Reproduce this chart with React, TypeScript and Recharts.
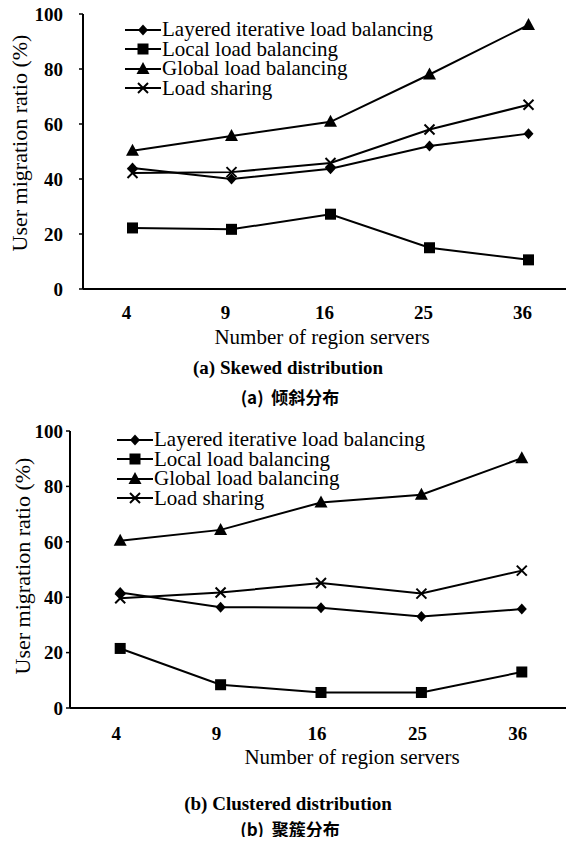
import { LineChart, Line, XAxis, YAxis } from "recharts";

const servers = ["4", "9", "16", "25", "36"];
const yTicks = [0, 20, 40, 60, 80, 100];
const seriesNames = [
  "Layered iterative load balancing",
  "Local load balancing",
  "Global load balancing",
  "Load sharing",
];
const markerShapes = ["diamond", "square", "triangle", "cross"];

// (a) skewed distribution
const skewedLayered = [44, 40, 43.7, 52, 56.5];
const skewedLocal = [22.2, 21.7, 27.2, 15, 10.6];
const skewedGlobal = [50.3, 55.6, 60.8, 78, 96];
const skewedSharing = [42.2, 42.5, 45.8, 58, 67];

// (b) clustered distribution
const clusteredLayered = [41.7, 36.4, 36.2, 33, 35.7];
const clusteredLocal = [21.5, 8.4, 5.6, 5.6, 13];
const clusteredGlobal = [60.4, 64.3, 74.2, 77, 90.2];
const clusteredSharing = [39.6, 41.7, 45.1, 41.3, 49.6];

const serif = '"Liberation Serif", "Times New Roman", Times, serif';
const keys = ["layered", "local", "global", "sharing"];

function Marker({ shape, cx, cy }: { shape: string; cx: number; cy: number }) {
  if (cx == null || cy == null) return null;
  if (shape === "diamond")
    return <polygon points={`${cx},${cy - 5.5} ${cx + 5},${cy} ${cx},${cy + 5.5} ${cx - 5},${cy}`} fill="#000" />;
  if (shape === "square") return <rect x={cx - 5.5} y={cy - 5.5} width={11} height={11} fill="#000" />;
  if (shape === "triangle")
    return <polygon points={`${cx},${cy - 7} ${cx + 6.5},${cy + 5} ${cx - 6.5},${cy + 5}`} fill="#000" />;
  return (
    <g stroke="#000" strokeWidth={2}>
      <line x1={cx - 5} y1={cy - 5} x2={cx + 5} y2={cy + 5} />
      <line x1={cx - 5} y1={cy + 5} x2={cx + 5} y2={cy - 5} />
    </g>
  );
}

const dotFor = (shape: string) => (props: any) =>
  <Marker key={`${shape}-${props.index}`} shape={shape} cx={props.cx} cy={props.cy} />;

function Legend({ left, top }: { left: number; top: number }) {
  return (
    <div style={{ position: "absolute", left, top }}>
      {seriesNames.map((name, i) => (
        <div key={name} style={{ display: "flex", alignItems: "center", height: 19.5 }}>
          <svg width={36} height={20}>
            <line x1={0} y1={10} x2={36} y2={10} stroke="#000" strokeWidth={2} />
            <Marker shape={markerShapes[i]} cx={18} cy={10} />
          </svg>
          <span style={{ fontFamily: serif, fontSize: 21, lineHeight: "19.5px", whiteSpace: "nowrap", marginLeft: 1 }}>
            {name}
          </span>
        </div>
      ))}
    </div>
  );
}

function Panel({ series, cfg }: any) {
  const data = servers.map((s, i) => ({
    n: s,
    layered: series[0][i],
    local: series[1][i],
    global: series[2][i],
    sharing: series[3][i],
  }));
  const plotW = 600 - cfg.yWidth - cfg.mRight;
  const pad = plotW / 10;
  const axisStyle = { stroke: "#000", strokeWidth: 2 };
  const tickFont = { fill: "#000", fontSize: 19, fontWeight: "bold", fontFamily: serif, style: { fontFamily: serif } };
  return (
    <div style={{ position: "absolute", left: 0, top: cfg.top }}>
      <LineChart width={600} height={cfg.height} data={data} style={{ fontFamily: serif }}
        margin={{ top: cfg.mTop, right: cfg.mRight, bottom: 0, left: 0 }}>
        <XAxis xAxisId="edge" type="number" domain={[0, 5]} ticks={[1, 2, 3, 4]} allowDataOverflow
          tick={false} axisLine={false} tickSize={4} mirror height={0} tickLine={{ stroke: "#000", strokeWidth: 1.5 }} />
        <XAxis dataKey="n" height={44} padding={{ left: pad, right: pad }} interval={0}
          tickSize={0} tickMargin={cfg.xTickMargin} axisLine={axisStyle} tickLine={false}
          tick={{ ...tickFont, dx: cfg.dx }} />
        <XAxis xAxisId="top" orientation="top" dataKey="n" height={0} tick={false} tickLine={false} axisLine={axisStyle} />
        <YAxis domain={[0, 100]} ticks={yTicks} width={cfg.yWidth} tickSize={4} tickMargin={cfg.yTickMargin}
          axisLine={axisStyle} tickLine={{ stroke: "#000", strokeWidth: 1.5 }} tick={tickFont} />
        <YAxis yAxisId="right" orientation="right" width={0} domain={[0, 100]} tick={false} tickLine={false} axisLine={axisStyle} />
        {keys.map((k, i) => (
          <Line key={k} dataKey={k} stroke="#000" strokeWidth={2} isAnimationActive={false}
            dot={dotFor(markerShapes[i])} activeDot={false} />
        ))}
      </LineChart>
    </div>
  );
}

function Text({ x, y, size, bold, children, cjk }: any) {
  return (
    <div style={{
      position: "absolute", left: x, top: y, transform: "translate(-50%, -50%)", whiteSpace: "nowrap",
      fontFamily: cjk ? '"Noto Sans CJK SC", "Liberation Serif", serif' : serif,
      fontSize: size, fontWeight: bold ? "bold" : "normal", lineHeight: 1,
    }}>{children}</div>
  );
}

function YTitle({ x, y }: { x: number; y: number }) {
  return (
    <div style={{
      position: "absolute", left: x, top: y, transform: "translate(-50%, -50%) rotate(-90deg)",
      whiteSpace: "nowrap", fontFamily: serif, fontSize: 22, lineHeight: 1,
    }}>User migration ratio (%)</div>
  );
}

const cfgA = { top: 0, height: 333, mTop: 14, mRight: 22, yWidth: 83, yTickMargin: 16, xTickMargin: 17, dx: -6 };
const cfgB = { top: 420, height: 332, mTop: 11, mRight: 28, yWidth: 70, yTickMargin: 3, xTickMargin: 19, dx: -4 };

export default function App() {
  return (
    <div style={{ position: "relative", width: 574, height: 845, margin: -8, overflow: "hidden", background: "#fff", fontFamily: serif }}>
      <Panel series={[skewedLayered, skewedLocal, skewedGlobal, skewedSharing]} cfg={cfgA} />
      <Legend left={125} top={20} />
      <YTitle x={20} y={143} />
      <Text x={322} y={337} size={21}>Number of region servers</Text>
      <Text x={288} y={367} size={19} bold>(a) Skewed distribution</Text>
      <Text x={290} y={396} size={17} bold cjk>(a)&nbsp; 倾斜分布</Text>

      <Panel series={[clusteredLayered, clusteredLocal, clusteredGlobal, clusteredSharing]} cfg={cfgB} />
      <Legend left={117} top={430} />
      <YTitle x={23} y={566} />
      <Text x={352} y={757} size={21}>Number of region servers</Text>
      <Text x={288} y={803} size={19} bold>(b) Clustered distribution</Text>
      <Text x={290} y={828} size={17} bold cjk>(b)&nbsp; 聚簇分布</Text>
    </div>
  );
}
